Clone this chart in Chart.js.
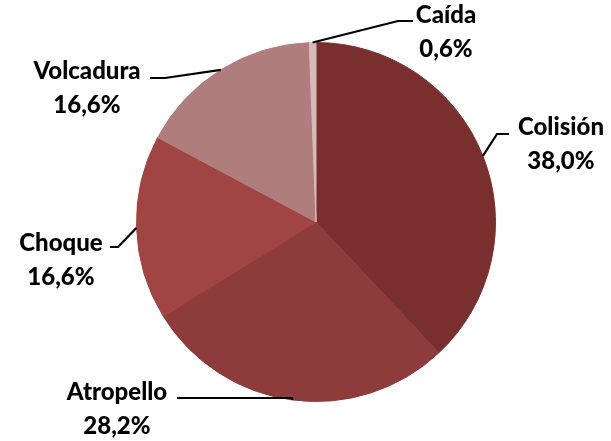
<!DOCTYPE html>
<html>
<head>
<meta charset="utf-8">
<script src="https://cdn.jsdelivr.net/npm/chart.js@4/dist/chart.umd.min.js"></script>
<style>
  html, body { margin: 0; padding: 0; background: #fff; }
  #wrap { width: 611px; height: 441px; position: relative; }
</style>
</head>
<body>
<div id="wrap"><canvas id="pieChart"></canvas></div>
<script>
// data
var categorias = ['Colisión', 'Atropello', 'Choque', 'Volcadura', 'Caída'];
var porcentajes = [38.0, 28.2, 16.6, 16.6, 0.6];
var colores = ['#7a2f2f', '#8e3b3b', '#a04444', '#b07d7d', '#d7b9b9'];

// label layout: text centre, elbow and end of the leader line
var etiquetas = [
    { x: 561, y: 127, elbow: [497, 134], end: [509, 134] },
    { x: 117, y: 392, elbow: [292, 398], end: [177, 398] },
    { x: 61,  y: 243, elbow: [118, 247], end: [110, 247] },
    { x: 87,  y: 71,  elbow: [165, 78],  end: [150, 78] },
    { x: 446, y: 15,  elbow: [398, 21],  end: [413, 21] }
];

function fmt(v) {
    return v.toFixed(1).replace('.', ',') + '%';
}

var labelPlugin = {
    id: 'labelPlugin',
    afterDraw: function(chart) {
        var ctx = chart.ctx;
        var arcs = chart.getDatasetMeta(0).data;
        ctx.save();
        for (var i = 0; i < arcs.length; i++) {
            var a = arcs[i];
            var mid = (a.startAngle + a.endAngle) / 2;
            var px = a.x + Math.cos(mid) * a.outerRadius;
            var py = a.y + Math.sin(mid) * a.outerRadius;
            var lb = etiquetas[i];
            ctx.strokeStyle = '#000';
            ctx.lineWidth = 2.2;
            ctx.beginPath();
            ctx.moveTo(px, py);
            ctx.lineTo(lb.elbow[0], lb.elbow[1]);
            ctx.lineTo(lb.end[0], lb.end[1]);
            ctx.stroke();

            ctx.fillStyle = '#000';
            ctx.font = '900 24px Lato';
            ctx.textAlign = 'center';
            ctx.textBaseline = 'middle';
            ctx.fillText(categorias[i], lb.x, lb.y);
            ctx.fillText(fmt(porcentajes[i]), lb.x, lb.y + 34);
        }
        ctx.restore();
    }
};

var ctx = document.getElementById('pieChart').getContext('2d');
var chart = new Chart(ctx, {
    type: 'pie',
    data: {
        labels: categorias,
        datasets: [{
            data: porcentajes,
            backgroundColor: colores,
            borderColor: colores,
            borderWidth: 1
        }]
    },
    options: {
        responsive: true,
        maintainAspectRatio: false,
        animation: false,
        layout: { padding: { top: 42, bottom: 39, left: 136, right: 115 } },
        plugins: {
            legend: { display: false },
            tooltip: { enabled: false }
        }
    },
    plugins: [labelPlugin]
});
</script>
</body>
</html>
